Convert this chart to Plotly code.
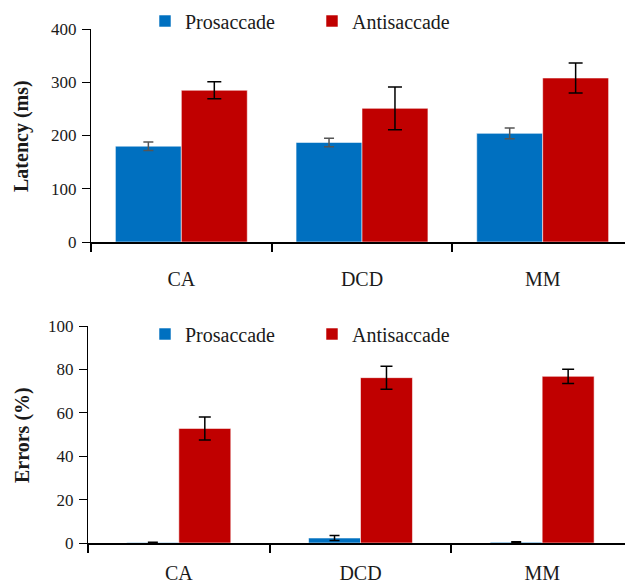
import plotly.graph_objects as go

groups = ["CA", "DCD", "MM"]
series_names = ["Prosaccade", "Antisaccade"]

latency_pro = [180, 187, 204]
latency_pro_err = [8, 8, 10]
latency_anti = [285, 251, 308]
latency_anti_err = [16, 40, 28]

errors_pro = [0.2, 2.3, 0.4]
errors_pro_err = [0.2, 1.2, 0.2]
errors_anti = [52.8, 76.2, 76.8]
errors_anti_err = [5.3, 5.3, 3.3]

latency_ticks = [0, 100, 200, 300, 400]
errors_ticks = [0, 20, 40, 60, 80, 100]

BLUE = "#0070C0"
RED = "#C00000"
FONT = "Liberation Serif"
OFF = 8  # page body margin
W, H = 633 - OFF, 583 - OFF

fig = go.Figure()

def add_bars(vals, errs, name, color, errcolor, xa, ya, legend, width, offset, capw, show):
    fig.add_trace(go.Bar(
        x=groups, y=vals, name=name, xaxis=xa, yaxis=ya, legend=legend,
        showlegend=show, width=width, offset=offset,
        marker=dict(color=color, line=dict(color="rgba(255,255,255,0.55)", width=1)),
        error_y=dict(type="data", array=errs, visible=True, color=errcolor,
                     thickness=1.5, width=capw),
    ))

tw = 0.365
add_bars(latency_pro, latency_pro_err, series_names[0], BLUE, "#555555", "x", "y", "legend", tw, -tw, 5, True)
add_bars(latency_anti, latency_anti_err, series_names[1], RED, "#000000", "x", "y", "legend", tw, 0, 7, True)
bw = 0.286
add_bars(errors_pro, errors_pro_err, series_names[0], BLUE, "#000000", "x2", "y2", "legend2", bw, -bw, 5, True)
add_bars(errors_anti, errors_anti_err, series_names[1], RED, "#000000", "x2", "y2", "legend2", bw, 0, 6, True)

def px_x(p):
    return (p - OFF) / W

def px_y(p):
    return 1 - (p - OFF) / H

tickfont = dict(family=FONT, size=17, color="#1a1a1a")
catfont = dict(family=FONT, size=20, color="#1a1a1a")

xcommon = dict(type="category", showline=True, linecolor="black", ticks="outside",
               tickson="boundaries", ticklen=8, tickcolor="black", tickwidth=1.5,
               tickfont=catfont, showgrid=False, zeroline=False,
               fixedrange=True, automargin=False)
ycommon = dict(showline=True, linecolor="black", linewidth=1, ticks="outside", ticklen=8,
               tickcolor="black", tickwidth=1, tickfont=tickfont, showgrid=False,
               zeroline=False, ticklabelstandoff=2, automargin=False)

legcommon = dict(orientation="h", xref="container", yref="container", xanchor="left",
                 yanchor="middle", font=dict(family=FONT, size=20, color="#1a1a1a"),
                 entrywidth=122, entrywidthmode="pixels", bgcolor="rgba(0,0,0,0)")

fig.update_layout(
    width=W, height=H,
    margin=dict(l=0, r=0, t=0, b=0, autoexpand=False),
    paper_bgcolor="white", plot_bgcolor="white",
    font=dict(family=FONT, color="#1a1a1a"),
    xaxis=dict(domain=[px_x(91), 1], anchor="y", linewidth=2, ticklabelstandoff=18, **xcommon),
    yaxis=dict(domain=[px_y(242), px_y(29)], anchor="x", range=[0, 400],
               tickvals=latency_ticks, **ycommon),
    xaxis2=dict(domain=[px_x(88), 1], anchor="y2", linewidth=1.5, ticklabelstandoff=11, **xcommon),
    yaxis2=dict(domain=[px_y(543), px_y(326)], anchor="x2", range=[0, 100],
                tickvals=errors_ticks, **ycommon),
    legend=dict(x=px_x(145), y=px_y(21), **legcommon),
    legend2=dict(x=px_x(145), y=px_y(334), **legcommon),
    annotations=[
        dict(text="<b>Latency (ms)</b>", x=px_x(22), y=px_y(136), xref="paper", yref="paper",
             textangle=-90, showarrow=False, xanchor="center", yanchor="middle",
             font=dict(family=FONT, size=20, color="#1a1a1a")),
        dict(text="<b>Errors (%)</b>", x=px_x(22), y=px_y(435), xref="paper", yref="paper",
             textangle=-90, showarrow=False, xanchor="center", yanchor="middle",
             font=dict(family=FONT, size=20, color="#1a1a1a")),
    ],
)

fig.write_html("out.html")
